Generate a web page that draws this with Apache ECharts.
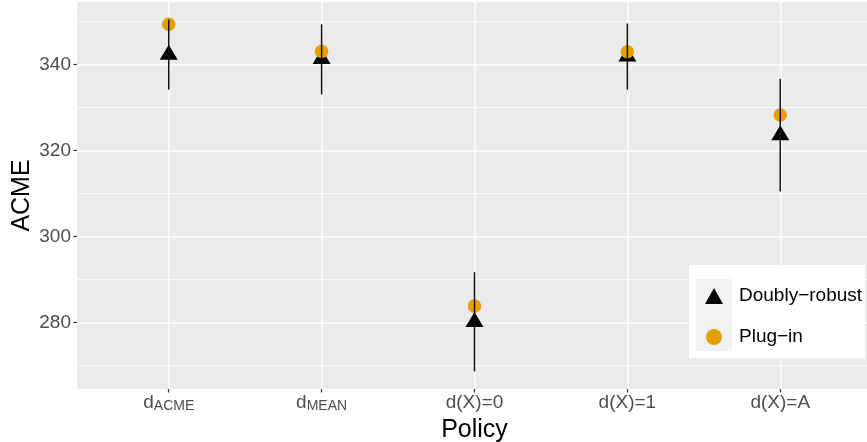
<!DOCTYPE html>
<html><head><meta charset="utf-8">
<script src="https://cdn.jsdelivr.net/npm/echarts@6/dist/echarts.min.js"></script>
<style>html,body{margin:0;padding:0;background:#fff}#c{width:867px;height:442px}</style>
</head><body><div id="c"></div>
<script>
// ---- data ----
const policies = ['dACME', 'dMEAN', 'd(X)=0', 'd(X)=1', 'd(X)=A'];
const policyLabels = ['{d|d}{s|ACME}', '{d|d}{s|MEAN}', '{d|d(X)=0}', '{d|d(X)=1}', '{d|d(X)=A}'];
const positions = [1, 2, 3, 4, 5];
const drEstimate = [342.3, 341.3, 280.1, 341.9, 323.6];
const drLower = [334.2, 333.1, 268.6, 334.2, 310.5];
const drUpper = [350.5, 349.4, 291.7, 349.6, 336.7];
const plugIn = [349.4, 343.1, 283.8, 343.0, 328.3];
const yMajorTicks = [280, 300, 320, 340];
const yMinorTicks = [270, 290, 310, 330, 350];

// ggplot-like 5% expansion
const allVals = drLower.concat(drUpper, plugIn, drEstimate);
const lo = Math.min.apply(null, allVals), hi = Math.max.apply(null, allVals);
const yMin = lo - 0.05 * (hi - lo), yMax = hi + 0.05 * (hi - lo);
const xMin = positions[0] - 0.6, xMax = positions[positions.length - 1] + 0.6;

const FONT = 'Liberation Sans, Arial, Helvetica, sans-serif';
const chart = echarts.init(document.getElementById('c'), null, {renderer: 'canvas'});

const gridLines = [];
yMajorTicks.forEach(v => gridLines.push({yAxis: v, lineStyle: {width: 1.5}}));
yMinorTicks.forEach(v => gridLines.push({yAxis: v, lineStyle: {width: 0.8}}));
positions.forEach(v => gridLines.push({xAxis: v, lineStyle: {width: 1.5}}));

const option = {
  animation: false,
  textStyle: {fontFamily: FONT},
  grid: {left: 77, top: 2, bottom: 53, right: -5, show: true, backgroundColor: '#EBEBEB', borderWidth: 0,
         containLabel: false, outerBoundsMode: 'none'},
  xAxis: {
    type: 'value', min: xMin, max: xMax,
    name: 'Policy', nameLocation: 'middle', nameGap: 29, nameMoveOverlap: false,
    nameTextStyle: {fontSize: 25, color: '#000', fontFamily: FONT},
    axisLine: {show: false},
    splitLine: {show: false},
    axisTick: {show: true, customValues: positions, length: 3.5, lineStyle: {color: '#333333', width: 1.2}},
    axisLabel: {
      customValues: positions, margin: 4,
      formatter: v => policyLabels[positions.indexOf(Math.round(v))] || '',
      rich: {
        d: {fontSize: 19, color: '#4D4D4D', lineHeight: 20, verticalAlign: 'top', fontFamily: FONT},
        s: {fontSize: 14, color: '#4D4D4D', lineHeight: 14, padding: [8, 0, 0, 0], verticalAlign: 'bottom', fontFamily: FONT}
      }
    }
  },
  yAxis: {
    type: 'value', min: yMin, max: yMax,
    name: 'ACME', nameLocation: 'middle', nameGap: 42, nameMoveOverlap: false,
    nameTextStyle: {fontSize: 25, color: '#000', fontFamily: FONT},
    axisLine: {show: false},
    splitLine: {show: false},
    axisTick: {show: true, customValues: yMajorTicks, length: 3.5, lineStyle: {color: '#333333', width: 1.2}},
    axisLabel: {customValues: yMajorTicks, margin: 6, fontSize: 19, color: '#4D4D4D', fontFamily: FONT}
  },
  legend: {
    orient: 'vertical', left: 705, top: 286.5, padding: 0,
    itemWidth: 18, itemHeight: 16, itemGap: 22, z: 20,
    data: [
      {name: 'Doubly\u2212robust', icon: 'triangle'},
      {name: 'Plug\u2212in', icon: 'circle'}
    ],
    formatter: n => '{g|}{t|' + n + '}',
    textStyle: {
      rich: {
        g: {width: 11},
        t: {fontSize: 19, color: '#000', lineHeight: 16, fontFamily: FONT}
      }
    }
  },
  graphic: [
    {type: 'rect', z: 10, shape: {x: 689, y: 265, width: 176, height: 93}, style: {fill: '#FFFFFF'}},
    {type: 'rect', z: 11, shape: {x: 696, y: 279, width: 36, height: 72}, style: {fill: '#F2F2F2'}}
  ],
  series: [
    {
      type: 'line', data: [], silent: true, z: 1,
      markLine: {
        silent: true, symbol: ['none', 'none'], z: 1, label: {show: false},
        lineStyle: {color: '#FFFFFF', type: 'solid'},
        emphasis: {disabled: true},
        data: gridLines
      }
    },
    {
      name: 'Doubly\u2212robust', type: 'scatter', z: 2,
      symbol: 'triangle', symbolSize: [18, 15], symbolOffset: [0, -2.5],
      itemStyle: {color: '#000000', opacity: 1},
      data: positions.map((p, i) => [p, drEstimate[i]])
    },
    {
      name: 'Plug\u2212in', type: 'scatter', z: 3,
      symbol: 'circle', symbolSize: 13.5,
      itemStyle: {color: '#E69F00', opacity: 1},
      data: positions.map((p, i) => [p, plugIn[i]])
    },
    {
      type: 'custom', z: 4, silent: true,
      data: positions.map((p, i) => [p, drLower[i], drUpper[i]]),
      encode: {x: 0, y: [1, 2]},
      renderItem: (params, api) => {
        const a = api.coord([api.value(0), api.value(1)]);
        const b = api.coord([api.value(0), api.value(2)]);
        return {type: 'line', shape: {x1: a[0], y1: a[1], x2: b[0], y2: b[1]},
                style: {stroke: '#111111', lineWidth: 1.5}};
      }
    }
  ]
};
chart.setOption(option);
</script></body></html>
